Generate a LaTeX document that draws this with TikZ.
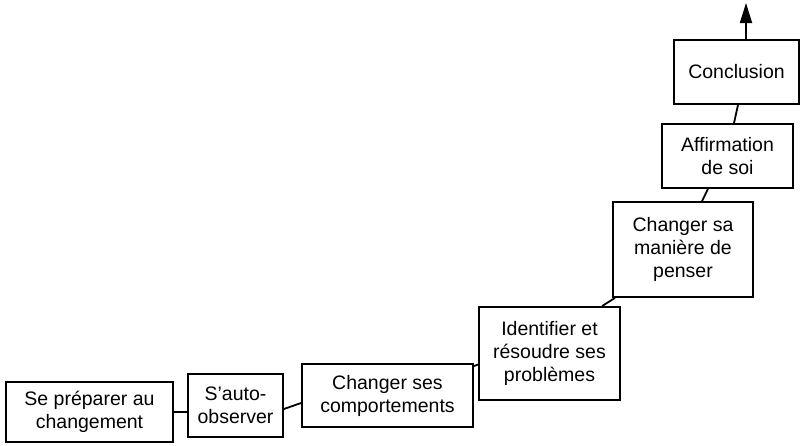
\documentclass[tikz,border=0pt]{standalone}
\usepackage{fontspec}
\setmainfont{Liberation Sans}[Ligatures=NoCommon]
\usetikzlibrary{arrows.meta}
\begin{document}
\begin{tikzpicture}[x=1pt,y=-1pt,
  stepbox/.style={draw=black,line width=1.8pt,inner sep=0pt,align=center,
    font=\fontsize{19.5}{23}\selectfont},
  link/.style={draw=black,line width=1.8pt}]
\useasboundingbox (0,0) rectangle (801,445);
\node[stepbox,minimum width=167pt,minimum height=60pt] (b1) at (89.5,412) {Se préparer au\\changement};
\node[stepbox,minimum width=95pt,minimum height=63pt] (b2) at (235.5,405.5) {S’auto-\\observer};
\node[stepbox,minimum width=171pt,minimum height=63pt] (b3) at (387.5,395.5) {Changer ses\\comportements};
\node[stepbox,minimum width=141pt,minimum height=93pt] (b4) at (549.5,353.5) {Identifier et\\résoudre ses\\problèmes};
\node[stepbox,minimum width=140pt,minimum height=95pt] (b5) at (683,249.5) {Changer sa\\manière de\\penser};
\node[stepbox,minimum width=131pt,minimum height=64pt] (b6) at (727.5,156) {Affirmation\\de soi};
\node[stepbox,minimum width=125pt,minimum height=64pt] (b7) at (736.5,72) {Conclusion};
\coordinate (top) at (746,3);
\draw[link] (b1.east) -- (b1.east -| b2.west);
\draw[link] ([yshift=-3.5pt]b2.east) -- ([yshift=-7.5pt]b3.west);
\draw[link] ([yshift=-3pt]b3.north east) -- ([yshift=-11pt]b4.west);
\draw[link] ([xshift=52.5pt]b4.north) -- ([xshift=-68pt]b5.south);
\draw[link] ([xshift=-19.5pt]b6.south) -- ([xshift=19pt]b5.north);
\draw[link] ([xshift=1.5pt]b7.south) -- ([xshift=6.5pt]b6.north);
\draw[link,-{Triangle[length=20pt,width=12pt]}] (b7.north -| top) -- (top);
\end{tikzpicture}
\end{document}
